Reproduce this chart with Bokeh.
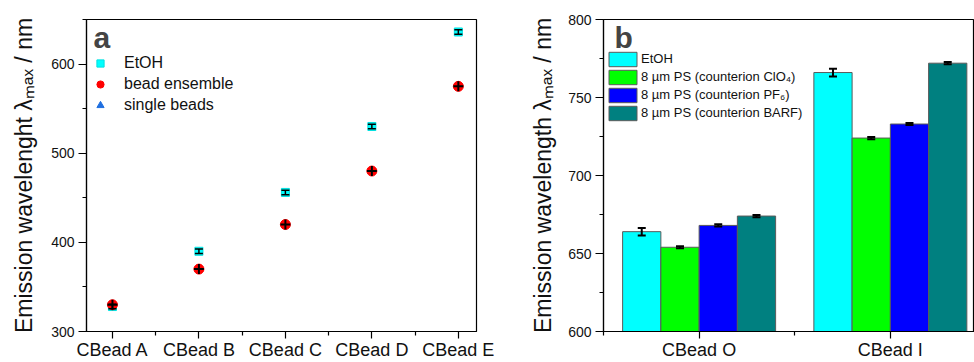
from bokeh.plotting import figure
from bokeh.layouts import row
from bokeh.models import (Range1d, FixedTicker, Legend, LegendItem, Whisker, TeeHead,
                          Label, ColumnDataSource)
from bokeh.embed import file_html
from bokeh.resources import INLINE

# ---------------- data ----------------
cats_a = ["CBead A", "CBead B", "CBead C", "CBead D", "CBead E"]
etoh_a = [328, 390, 456, 530, 636]
etoh_err_a = [2.5, 2.5, 2.5, 2.5, 2.5]
bead_a = [330, 370, 420, 480, 575]
single_a = [float("nan")] * 5          # single-bead points not visible in the chart
yticks_a = [300, 400, 500, 600]
ylabel_a = "Emission wavelenght λₘₐₓ / nm"

cats_b = ["CBead O", "CBead I"]
series_b = ["EtOH", "8 µm PS (counterion ClO₄)", "8 µm PS (counterion PF₆)",
            "8 µm PS (counterion BARF)"]
vals_b = {
    "EtOH": [664, 766],
    "ClO4": [654, 724],
    "PF6": [668, 733],
    "BARF": [674, 772],
}
errs_b = {
    "EtOH": [2.4, 2.5],
    "ClO4": [0.7, 0.7],
    "PF6": [0.7, 0.7],
    "BARF": [0.7, 0.7],
}
colors_b = ["#00FFFF", "#00FF00", "#0000FF", "#008080"]
yticks_b = [600, 650, 700, 750, 800]
ylabel_b = "Emission wavelength λₘₐₓ / nm"

FONT = "Liberation Sans"
H = 362
FB = 331  # expected frame bottom (canvas px)


def style(p, ylab, standoff):
    p.xgrid.visible = False
    p.ygrid.visible = False
    p.outline_line_color = "black"
    p.outline_line_width = 1.2
    p.background_fill_color = "white"
    p.border_fill_color = "white"
    for ax in (p.xaxis[0], p.yaxis[0]):
        ax.axis_line_color = "black"
        ax.axis_line_width = 1.2
        ax.major_tick_line_width = 1.2
        ax.minor_tick_line_width = 1.2
        ax.major_tick_in = 0
        ax.minor_tick_in = 0
        ax.minor_tick_out = 4
        ax.major_label_text_font = FONT
        ax.major_label_text_color = "#111111"
    p.xaxis.major_tick_out = 7
    p.xaxis.major_label_standoff = 1
    p.xaxis.major_label_text_font_size = "18px"
    p.yaxis.major_tick_out = 8
    p.yaxis.major_label_standoff = 4
    p.yaxis.major_label_text_font_size = "14px"
    p.yaxis.axis_label = ylab
    p.yaxis.axis_label_text_font = FONT
    p.yaxis.axis_label_text_font_style = "normal"
    p.yaxis.axis_label_text_font_size = "23px"
    p.yaxis.axis_label_text_color = "#111111"
    p.yaxis.axis_label_standoff = standoff


# ---------------- panel a ----------------
xa = [i + 1 for i in range(len(cats_a))]
pa = figure(width=515, height=H, output_backend="svg", toolbar_location=None,
            title=None, x_range=Range1d(0.7, 5.21), y_range=Range1d(300, 650),
            min_border_left=86, min_border_right=39, min_border_top=19, min_border_bottom=0)
style(pa, ylabel_a, 11)
pa.xaxis.ticker = FixedTicker(ticks=xa, minor_ticks=[x + 0.5 for x in xa[:-1]])
pa.xaxis.major_label_overrides = {x: c for x, c in zip(xa, cats_a)}
pa.yaxis.ticker = FixedTicker(ticks=yticks_a, minor_ticks=[t + 50 for t in yticks_a])

src_e = ColumnDataSource(dict(x=xa, y=etoh_a,
                              lo=[v - e for v, e in zip(etoh_a, etoh_err_a)],
                              hi=[v + e for v, e in zip(etoh_a, etoh_err_a)]))
r_etoh = pa.scatter("x", "y", source=src_e, marker="square", size=8,
                    fill_color="#00FFFF", line_color="#00E0E0")
pa.add_layout(Whisker(base="x", lower="lo", upper="hi", source=src_e, line_width=1.5,
                      line_color="black", level="overlay",
                      upper_head=TeeHead(size=8, line_width=1.5, line_color="black"),
                      lower_head=TeeHead(size=8, line_width=1.5, line_color="black")))
src_b = ColumnDataSource(dict(x=xa, y=bead_a))
r_bead = pa.scatter("x", "y", source=src_b, marker="circle", size=10,
                    fill_color="#FF0000", line_color="#FF0000")
pa.scatter("x", "y", source=src_b, marker="cross", size=10, line_color="black", line_width=2)
src_s = ColumnDataSource(dict(x=xa, y=single_a))
r_single = pa.scatter("x", "y", source=src_s, marker="triangle", size=10,
                      fill_color="#1F6FE0", line_color="#1F6FE0")

leg_a = Legend(items=[LegendItem(label="EtOH", renderers=[r_etoh]),
                      LegendItem(label="bead ensemble", renderers=[r_bead]),
                      LegendItem(label="single beads", renderers=[r_single])],
               location=(5, FB - 115.5), padding=0, margin=0, spacing=0,
               glyph_width=18, glyph_height=18, label_height=21, label_standoff=15,
               label_text_font=FONT, label_text_font_size="16px",
               label_text_color="#111111",
               background_fill_alpha=0, border_line_alpha=0)
pa.add_layout(leg_a)
pa.add_layout(Label(x=93 - 86, y=FB - 37, x_units="screen", y_units="screen", text="a",
                    text_font=FONT, text_font_style="bold", text_font_size="30px",
                    text_baseline="alphabetic"))

# ---------------- panel b ----------------
xb = [i + 1 for i in range(len(cats_b))]
pb = figure(width=459, height=H, output_backend="svg", toolbar_location=None,
            title=None, x_range=Range1d(0.5, 2.44), y_range=Range1d(600, 800),
            min_border_left=88, min_border_right=0, min_border_top=19, min_border_bottom=0)
style(pb, ylabel_b, 9)
pb.xaxis.ticker = FixedTicker(ticks=xb, minor_ticks=[x - 0.5 for x in xb] + [xb[-1] + 0.5])
pb.xaxis.major_label_overrides = {x: c for x, c in zip(xb, cats_b)}
pb.yaxis.ticker = FixedTicker(ticks=yticks_b, minor_ticks=[t + 25 for t in yticks_b[:-1]])

keys = list(vals_b.keys())
nser = len(keys)
bw = 0.2
items_b = []
for k, (key, lab, col) in enumerate(zip(keys, series_b, colors_b)):
    off = (k - (nser - 1) / 2) * bw
    xs = [x + off for x in xb]
    v = vals_b[key]
    e = errs_b[key]
    s = ColumnDataSource(dict(x=xs, top=v, lo=[a - b for a, b in zip(v, e)],
                              hi=[a + b for a, b in zip(v, e)]))
    r = pb.vbar(x="x", top="top", bottom=0, width=bw, source=s, fill_color=col,
                line_color="#5a5a5a", line_width=1)
    pb.add_layout(Whisker(base="x", lower="lo", upper="hi", source=s, line_width=2,
                          line_color="black", level="overlay",
                          upper_head=TeeHead(size=8, line_width=2, line_color="black"),
                          lower_head=TeeHead(size=8, line_width=2, line_color="black")))
    items_b.append(LegendItem(label=lab, renderers=[r]))

leg_b = Legend(items=items_b, location=(2, FB - 121.5), padding=0, margin=0, spacing=0,
               glyph_width=35, glyph_height=18, label_height=18, label_standoff=1,
               label_text_font=FONT, label_text_font_size="13px",
               label_text_color="#111111",
               background_fill_alpha=0, border_line_alpha=0)
pb.add_layout(leg_b)
pb.add_layout(Label(x=614 - 603, y=FB - 37, x_units="screen", y_units="screen", text="b",
                    text_font=FONT, text_font_style="bold", text_font_size="30px",
                    text_baseline="alphabetic"))

layout = row(pa, pb)
open("out.html", "w").write(file_html(layout, INLINE))
